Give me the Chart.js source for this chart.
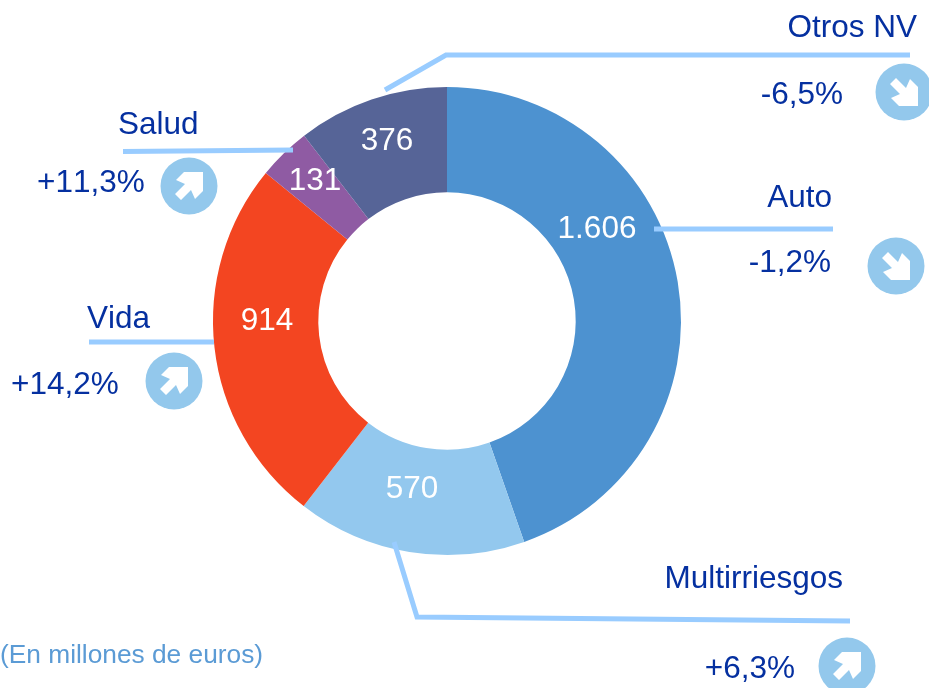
<!DOCTYPE html>
<html lang="es">
<head>
<meta charset="utf-8">
<title>Primas por línea de negocio</title>
<style>html,body{margin:0;padding:0;background:#fff}canvas{display:block}</style>
<script src="https://cdn.jsdelivr.net/npm/chart.js@4"></script>
</head>
<body>
<canvas id="chart" width="929" height="688"></canvas>
<script>
const categories = ['Auto', 'Multirriesgos', 'Vida', 'Salud', 'Otros NV'];
const values = [1606, 570, 914, 131, 376];
const valueLabels = ['1.606', '570', '914', '131', '376'];
const changes = ['-1,2%', '+6,3%', '+14,2%', '+11,3%', '-6,5%'];
const colors = ['#4D92D0', '#93C8EE', '#F34521', '#8F5BA3', '#566497'];
const footnote = '(En millones de euros)';

const FONT = '"Liberation Sans", Arial, sans-serif';
const layout = [
  {value:[597,238], name:[832,207,'right'], change:[831,272,'right'], circle:[896,266],
   line:[[654,229],[833,229]]},
  {value:[412,498], name:[843,588,'right'], change:[795,678,'right'], circle:[847,666],
   line:[[394,542],[417,617],[850,621]]},
  {value:[267,330], name:[87,328,'left'], change:[11,394,'left'], circle:[174,381],
   line:[[89,342],[214,342]]},
  {value:[315,190], name:[118,134,'left'], change:[37,192,'left'], circle:[189,186],
   line:[[123,151.5],[293,150]]},
  {value:[387,150], name:[917,37,'right'], change:[843,104,'right'], circle:[904,92],
   line:[[385,90],[446,55],[910,55]]}
];
const arrowShape = [[14,-14],[-5,-14],[-13,-6],[-4,-2],[-14,8],[-8,14],[2,4],[6,13],[14,5]];

const annotations = {
  id: 'annotations',
  afterDatasetsDraw(chart) {
    const c = chart.ctx;
    c.save();
    c.textBaseline = 'alphabetic';
    c.fontKerning = 'none';
    layout.forEach((p, i) => {
      c.strokeStyle = '#99CCFF';
      c.lineWidth = 5;
      c.lineJoin = 'miter';
      c.beginPath();
      p.line.forEach(([x, y], k) => k ? c.lineTo(x, y) : c.moveTo(x, y));
      c.stroke();

      c.font = '31.5px ' + FONT;
      c.fillStyle = '#FFFFFF';
      c.textAlign = 'center';
      c.fillText(valueLabels[i], p.value[0], p.value[1]);

      c.fillStyle = '#0530A0';
      c.textAlign = p.name[2];
      c.fillText(categories[i], p.name[0], p.name[1]);
      c.textAlign = p.change[2];
      c.fillText(changes[i], p.change[0], p.change[1]);

      const [cx, cy] = p.circle;
      c.fillStyle = '#93C8EC';
      c.beginPath();
      c.arc(cx, cy, 28.5, 0, Math.PI * 2);
      c.fill();
      const sign = changes[i].startsWith('-') ? 1 : -1;
      c.fillStyle = '#FFFFFF';
      c.beginPath();
      arrowShape.forEach(([x, y], k) => {
        const py = cy + (sign > 0 ? -y : y);
        k ? c.lineTo(cx + x, py) : c.moveTo(cx + x, py);
      });
      c.closePath();
      c.fill();
    });
    c.font = '26.3px ' + FONT;
    c.fillStyle = '#5B9BD5';
    c.textAlign = 'left';
    c.fillText(footnote, 0, 663);
    c.restore();
  }
};

new Chart(document.getElementById('chart'), {
  type: 'doughnut',
  data: {
    labels: categories,
    datasets: [{ data: values, backgroundColor: colors, borderWidth: 0 }]
  },
  options: {
    responsive: false,
    animation: false,
    cutout: '55%',
    layout: { padding: { left: 213, right: 248, top: 87, bottom: 133 } },
    plugins: { legend: { display: false }, tooltip: { enabled: false } }
  },
  plugins: [annotations]
});
</script>
</body>
</html>
